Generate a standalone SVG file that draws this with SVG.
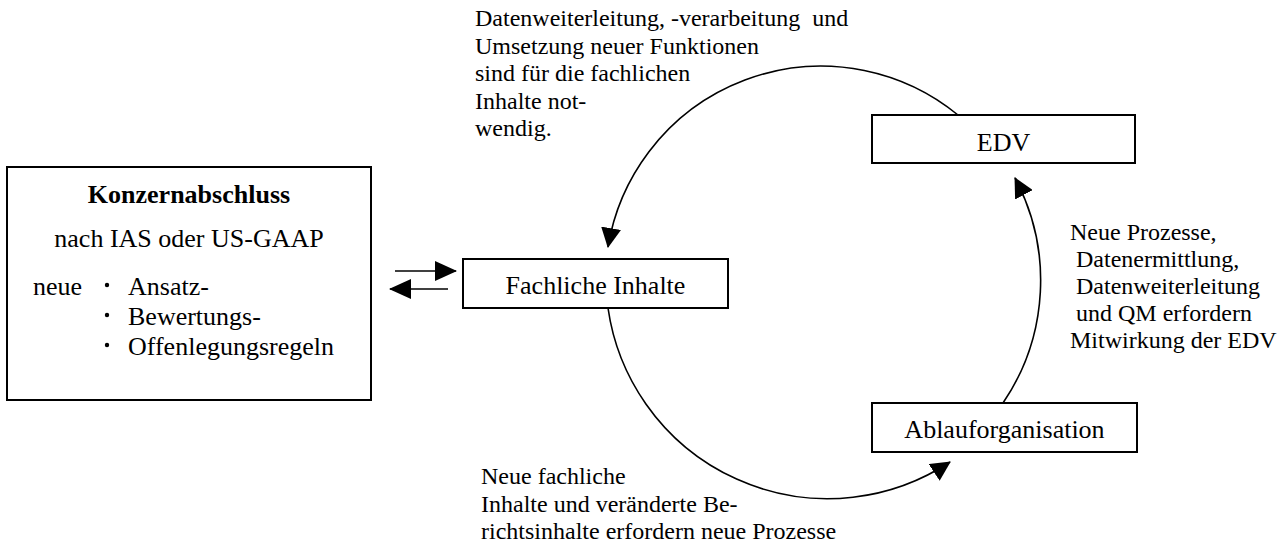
<svg xmlns="http://www.w3.org/2000/svg" width="1287" height="549" viewBox="0 0 1287 549">
<style>
text{font-family:"Liberation Serif","Times New Roman",serif;fill:#000;white-space:pre}
.bt{font-size:26px}
.lb{font-size:24px}
.c{text-anchor:middle}
.box{fill:#fff;stroke:#000;stroke-width:2}
.con{fill:none;stroke:#000;stroke-width:1.6}
</style>
<defs>
<marker id="ah" markerUnits="userSpaceOnUse" markerWidth="20" markerHeight="20" viewBox="0 0 20 20" refX="19" refY="10" orient="auto"><path d="M0,0 L20,10 L0,20 z" fill="#000"/></marker>
<marker id="ah2" markerUnits="userSpaceOnUse" markerWidth="22" markerHeight="20" viewBox="0 0 22 20" refX="21" refY="10" orient="auto"><path d="M0,0 L22,10 L0,20 z" fill="#000"/></marker>
</defs>
<rect width="1287" height="549" fill="#fff"/>

<g id="konzernabschluss">
<rect class="box" x="7" y="167" width="364" height="233"/>
<text class="bt c" x="189" y="203" font-weight="bold">Konzernabschluss</text>
<text class="bt c" x="189" y="247">nach IAS oder US-GAAP</text>
<text class="bt" x="33" y="295">neue</text>
<circle cx="107" cy="285" r="2.2"/>
<circle cx="107" cy="315" r="2.2"/>
<circle cx="107" cy="345" r="2.2"/>
<text class="bt" x="128" y="295">Ansatz-</text>
<text class="bt" x="128" y="325">Bewertungs-</text>
<text class="bt" x="128" y="355">Offenlegungsregeln</text>
</g>

<g id="fachliche-inhalte">
<rect class="box" x="463" y="259" width="265" height="49"/>
<text class="bt c" x="595.5" y="294">Fachliche Inhalte</text>
</g>

<g id="edv">
<rect class="box" x="872" y="115" width="263" height="48"/>
<text class="bt c" x="1003.5" y="151">EDV</text>
</g>

<g id="ablauforganisation">
<rect class="box" x="872" y="403" width="265" height="49"/>
<text class="bt c" x="1004.5" y="438">Ablauforganisation</text>
</g>

<g id="connectors">
<line class="con" x1="395" y1="271" x2="456" y2="271" marker-end="url(#ah2)"/>
<line class="con" x1="448" y1="289" x2="390" y2="289" marker-end="url(#ah2)"/>
<path class="con" d="M958,115 A216,216 0 0,0 608,247" marker-end="url(#ah)"/>
<path class="con" d="M608,308 A222,222 0 0,0 950,462" marker-end="url(#ah)"/>
<path class="con" d="M1003,403 A218,218 0 0,0 1015,178" marker-end="url(#ah)"/>
</g>

<g id="labels">
<text class="lb" x="475" y="26">Datenweiterleitung, -verarbeitung  und</text>
<text class="lb" x="475" y="53.5">Umsetzung neuer Funktionen</text>
<text class="lb" x="475" y="81">sind für die fachlichen</text>
<text class="lb" x="475" y="108.5">Inhalte not-</text>
<text class="lb" x="475" y="136">wendig.</text>

<text class="lb" x="1070" y="240">Neue Prozesse,</text>
<text class="lb" x="1070" y="267"> Datenermittlung,</text>
<text class="lb" x="1070" y="294"> Datenweiterleitung</text>
<text class="lb" x="1070" y="321"> und QM erfordern</text>
<text class="lb" x="1070" y="348">Mitwirkung der EDV</text>

<text class="lb" x="481" y="484">Neue fachliche</text>
<text class="lb" x="481" y="511.5">Inhalte und veränderte Be-</text>
<text class="lb" x="481" y="539">richtsinhalte erfordern neue Prozesse</text>
</g>
</svg>
